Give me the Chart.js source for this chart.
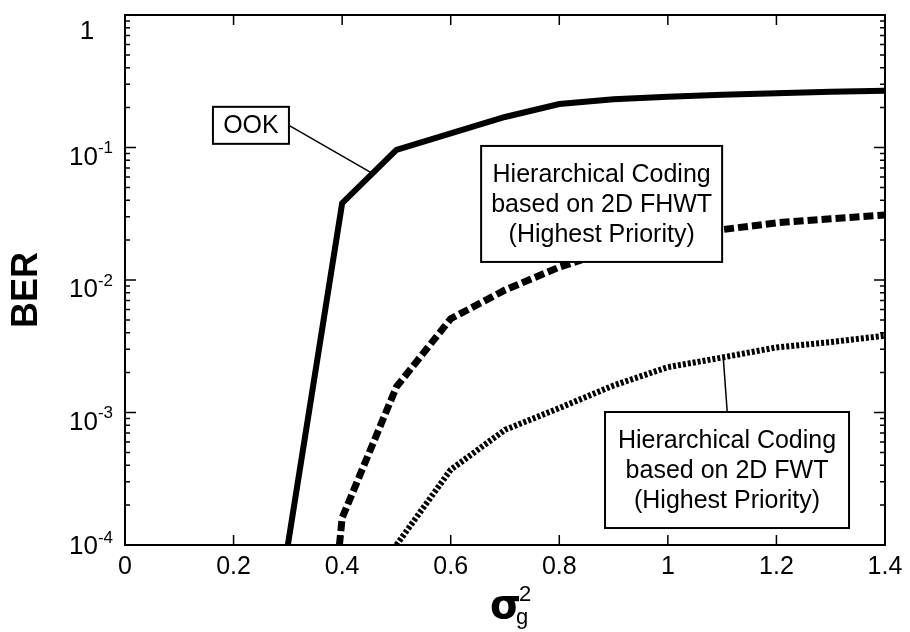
<!DOCTYPE html>
<html>
<head>
<meta charset="utf-8">
<script src="https://cdn.jsdelivr.net/npm/chart.js@4.4.1/dist/chart.umd.min.js"></script>
<style>
  html, body { margin: 0; padding: 0; background: #fff; }
  #wrap { width: 910px; height: 632px; }
</style>
</head>
<body>
<div id="wrap"><canvas id="ber-chart" width="910" height="632"></canvas></div>
<script>
// values (sigma_g^2 vs BER)
const ookSigma = [0.3, 0.4, 0.5, 0.6, 0.7, 0.8, 0.9, 1.0, 1.1, 1.2, 1.3, 1.4];
const ookBer = [1e-4, 0.038, 0.096, 0.128, 0.17, 0.213, 0.231, 0.242, 0.25, 0.257, 0.263, 0.268];

const fhwtSigma = [0.395, 0.4, 0.5, 0.6, 0.7, 0.8, 0.9, 1.0, 1.1, 1.2, 1.3, 1.4];
const fhwtBer = [1e-4, 1.6e-4, 1.56e-3, 5.1e-3, 8.4e-3, 0.0125, 0.017, 0.021, 0.024, 0.027, 0.029, 0.031];

const fwtSigma = [0.5, 0.6, 0.7, 0.8, 0.9, 1.0, 1.1, 1.2, 1.3, 1.4];
const fwtBer = [1e-4, 3.7e-4, 7.4e-4, 1.08e-3, 1.6e-3, 2.2e-3, 2.6e-3, 3.1e-3, 3.4e-3, 3.8e-3];

const xTickValues = [0, 0.2, 0.4, 0.6, 0.8, 1, 1.2, 1.4];
const yTickExponents = [0, -1, -2, -3, -4];

const FONT = '"Liberation Sans", Arial, Helvetica, sans-serif';

function toPoints(xs, ys) {
  return xs.map((x, i) => ({ x: x, y: ys[i] }));
}

// text boxes placed at data coordinates
const labelBoxes = [
  { lines: ['OOK'], cx: 0.232, cy: 0.147, w: 76, h: 37,
    leader: { from: 'right', x: 0.455, y: 0.064 } },
  { lines: ['Hierarchical Coding', 'based on 2D FHWT', '(Highest Priority)'],
    cx: 0.878, cy: 0.0375, w: 241, h: 116 },
  { lines: ['Hierarchical Coding', 'based on 2D FWT', '(Highest Priority)'],
    cx: 1.109, cy: 3.68e-4, w: 244, h: 116,
    leader: { from: 'top', x: 1.102, y: 2.62e-3 } }
];

const decorations = {
  id: 'decorations',
  afterDatasetsDraw(chart) {
    const { ctx, chartArea: a, scales: { x, y } } = chart;
    ctx.save();

    // annotation boxes
    labelBoxes.forEach(b => {
      const cx = x.getPixelForValue(b.cx);
      const cy = y.getPixelForValue(b.cy);
      const left = cx - b.w / 2, top = cy - b.h / 2;
      if (b.leader) {
        ctx.beginPath();
        ctx.lineWidth = 1.5;
        ctx.strokeStyle = '#000';
        if (b.leader.from === 'right') ctx.moveTo(left + b.w, cy);
        else ctx.moveTo(x.getPixelForValue(b.leader.x) + 4, top);
        ctx.lineTo(x.getPixelForValue(b.leader.x), y.getPixelForValue(b.leader.y));
        ctx.stroke();
      }
      ctx.fillStyle = '#fff';
      ctx.fillRect(left, top, b.w, b.h);
      ctx.lineWidth = 2;
      ctx.strokeStyle = '#000';
      ctx.strokeRect(left, top, b.w, b.h);
      ctx.fillStyle = '#000';
      ctx.font = '25px ' + FONT;
      ctx.textAlign = 'center';
      ctx.textBaseline = 'middle';
      const lh = 30;
      b.lines.forEach((t, i) => {
        ctx.fillText(t, cx, cy + (i - (b.lines.length - 1) / 2) * lh + 1);
      });
    });

    // frame
    ctx.lineWidth = 2;
    ctx.strokeStyle = '#000';
    ctx.strokeRect(a.left, a.top, a.right - a.left, a.bottom - a.top);

    // inward x ticks (top and bottom)
    ctx.lineWidth = 1.5;
    ctx.beginPath();
    xTickValues.forEach(v => {
      const px = x.getPixelForValue(v);
      ctx.moveTo(px, a.bottom); ctx.lineTo(px, a.bottom - 10);
      ctx.moveTo(px, a.top); ctx.lineTo(px, a.top + 10);
    });
    // inward y ticks, major and minor (left and right)
    for (let e = -4; e <= 0; e++) {
      for (let m = 1; m <= 9; m++) {
        const v = m * Math.pow(10, e);
        if (v > 1) break;
        const py = y.getPixelForValue(v);
        const len = m === 1 ? 11 : 5;
        ctx.moveTo(a.left, py); ctx.lineTo(a.left + len, py);
        ctx.moveTo(a.right, py); ctx.lineTo(a.right - len, py);
      }
    }
    ctx.stroke();

    // y tick labels with superscript exponents
    ctx.fillStyle = '#000';
    ctx.textBaseline = 'middle';
    yTickExponents.forEach(e => {
      const py = y.getPixelForValue(Math.pow(10, e));
      const off = e === 0 ? 17 : (e === -4 ? 2 : 10);
      const cx = 91;
      if (e === 0) {
        ctx.font = '26px ' + FONT;
        ctx.textAlign = 'center';
        ctx.fillText('1', cx - 4, py + off);
      } else {
        ctx.font = '26px ' + FONT;
        const base = '10';
        const sup = String(e);
        const bw = ctx.measureText(base).width;
        ctx.font = '17px ' + FONT;
        const sw = ctx.measureText(sup).width;
        const start = cx - (bw + sw) / 2;
        ctx.textAlign = 'left';
        ctx.font = '26px ' + FONT;
        ctx.fillText(base, start, py + off);
        ctx.font = '17px ' + FONT;
        ctx.fillText(sup, start + bw, py + off - 9);
      }
    });

    // axis titles
    ctx.save();
    ctx.translate(27, 290);
    ctx.rotate(-Math.PI / 2);
    ctx.font = 'bold 36px ' + FONT;
    ctx.textAlign = 'center';
    ctx.textBaseline = 'middle';
    ctx.fillText('BER', 0, 0);
    ctx.restore();

    ctx.textAlign = 'left';
    ctx.textBaseline = 'alphabetic';
    ctx.font = 'bold 40px "DejaVu Sans", ' + FONT;
    ctx.fillText('\u03C3', 490, 618);
    ctx.font = '22px ' + FONT;
    ctx.fillText('g', 516, 624);
    ctx.fillText('2', 519, 601);

    ctx.restore();
  }
};

const ctx = document.getElementById('ber-chart').getContext('2d');
new Chart(ctx, {
  type: 'line',
  data: {
    datasets: [
      {
        label: 'OOK',
        data: toPoints(ookSigma, ookBer),
        borderColor: '#000',
        borderWidth: 6,
        pointRadius: 0,
        tension: 0
      },
      {
        label: 'Hierarchical Coding based on 2D FHWT (Highest Priority)',
        data: toPoints(fhwtSigma, fhwtBer),
        borderColor: '#000',
        borderWidth: 7,
        borderDash: [10, 4],
        pointRadius: 0,
        tension: 0
      },
      {
        label: 'Hierarchical Coding based on 2D FWT (Highest Priority)',
        data: toPoints(fwtSigma, fwtBer),
        borderColor: '#000',
        borderWidth: 6,
        borderDash: [3, 2],
        pointRadius: 0,
        tension: 0
      }
    ]
  },
  options: {
    responsive: false,
    animation: false,
    layout: { padding: { left: 0, top: 15, right: 25, bottom: 0 } },
    plugins: {
      legend: { display: false },
      tooltip: { enabled: false }
    },
    scales: {
      x: {
        type: 'linear',
        min: 0,
        max: 1.4,
        grid: { display: false, drawTicks: false },
        border: { display: false },
        afterBuildTicks(scale) {
          scale.ticks = xTickValues.map(v => ({ value: v }));
        },
        ticks: {
          color: '#000',
          font: { family: FONT, size: 25 },
          padding: 7,
          maxRotation: 0,
          autoSkip: false,
          callback: v => String(Math.round(v * 10) / 10)
        },
        afterFit(scale) { scale.height = 87; }
      },
      y: {
        type: 'logarithmic',
        min: 1e-4,
        max: 1,
        grid: { display: false, drawTicks: false },
        border: { display: false },
        ticks: { display: false },
        afterFit(scale) { scale.width = 125; }
      }
    }
  },
  plugins: [decorations]
});
</script>
</body>
</html>
